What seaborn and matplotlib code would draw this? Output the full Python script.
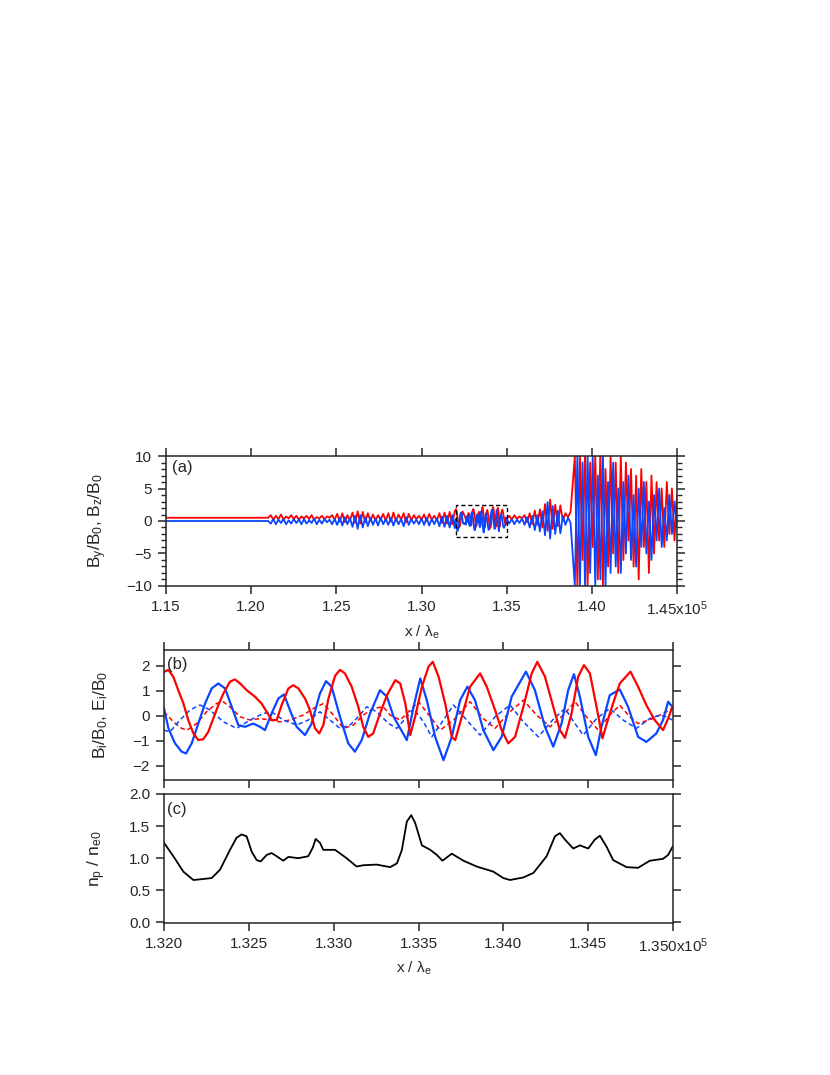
"""Three stacked panels: wide field view, zoomed field components and density."""

import matplotlib.pyplot as plt
import numpy as np
import pandas as pd
import seaborn as sns
from matplotlib.patches import Rectangle

# ---------------- panel (b): zoomed fields, x in units of lambda_e ----------------
by_x = [132000, 132026, 132055, 132084, 132114, 132143, 132173, 132202, 132232, 132261,
        132291, 132320, 132350, 132389, 132418, 132448, 132487, 132536, 132575, 132605,
        132634, 132664, 132693, 132733, 132762, 132792, 132831, 132860, 132890, 132915,
        132939, 132968, 133008, 133037, 133066, 133106, 133145, 133174, 133204, 133233,
        133273, 133314, 133363, 133392, 133422, 133451, 133480, 133520, 133559, 133584,
        133618, 133657, 133696, 133716, 133755, 133804, 133863, 133902, 133951, 133990,
        134029, 134069, 134118, 134167, 134200, 134245, 134294, 134333, 134363, 134402,
        134441, 134475, 134510, 134549, 134584, 134627, 134686, 134749, 134794, 134843,
        134892, 134941, 134971, 134996]
by_y = [1.75, 1.83, 1.55, 1.02, 0.5, -0.17, -0.7, -0.97, -0.93, -0.64,
        -0.1, 0.42, 0.89, 1.36, 1.45, 1.29, 1.02, 0.76, 0.49, 0.16,
        -0.17, -0.17, 0.42, 1.09, 1.22, 1.09, 0.69, 0.23, -0.5, -0.7,
        -0.37, 0.66, 1.59, 1.83, 1.69, 1.16, 0.36, -0.44, -0.84, -0.7,
        0.09, 0.82, 1.42, 1.29, 0.49, -0.77, -0.04, 1.16, 1.96, 2.15,
        1.56, 0.49, -0.84, -0.97, -0.04, 1.16, 1.69, 1.16, 0.23, -0.57,
        -1.1, -0.84, 0.36, 1.69, 2.15, 1.56, 0.36, -0.57, -0.88, 0.09,
        1.56, 2.02, 1.69, 0.36, -0.9, 0.09, 1.29, 1.76, 1.16, 0.42,
        -0.17, -0.57, -0.11, 0.36]

bz_x = [132000, 132026, 132065, 132104, 132130, 132163, 132202, 132242, 132281, 132320,
        132360, 132399, 132438, 132477, 132526, 132566, 132595, 132634, 132674, 132707,
        132742, 132782, 132831, 132870, 132919, 132955, 132988, 133037, 133086, 133125,
        133165, 133214, 133273, 133314, 133353, 133392, 133431, 133471, 133510, 133549,
        133598, 133647, 133696, 133745, 133788, 133833, 133882, 133941, 133990, 134049,
        134133, 134186, 134245, 134294, 134343, 134382, 134416, 134451, 134500, 134545,
        134578, 134627, 134686, 134735, 134794, 134843, 134902, 134941, 134971, 134996]
bz_y = [0.29, -0.5, -1.1, -1.43, -1.5, -1.1, -0.31, 0.49, 1.09, 1.29,
        1.09, 0.36, -0.37, -0.44, -0.31, -0.44, -0.57, 0.09, 0.69, 0.85,
        0.23, -0.44, -0.77, -0.31, 0.89, 1.38, 1.16, -0.04, -1.1, -1.43,
        -0.97, 0.09, 1.02, 0.76, -0.04, -0.5, -0.97, 0.36, 1.49, 0.62,
        -0.84, -1.77, -0.84, 0.62, 1.16, 0.62, -0.57, -1.37, -0.84, 0.76,
        1.76, 1.02, -0.44, -1.23, -0.31, 1.02, 1.66, 0.76, -0.84, -1.57,
        -0.44, 0.82, 1.05, 0.36, -0.84, -1.04, -0.7, -0.17, 0.56, 0.36]

ey_x = [132000, 132055, 132104, 132137, 132192, 132251, 132310, 132350, 132399, 132448,
        132507, 132566, 132625, 132683, 132742, 132821, 132880, 132939, 132998, 133057,
        133116, 133174, 133233, 133292, 133333, 133392, 133451, 133500, 133569, 133628,
        133706, 133804, 133882, 133951, 134039, 134118, 134196, 134275, 134353, 134422,
        134490, 134559, 134627, 134686, 134745, 134794, 134882, 134961, 134996]
ey_y = [0.16, -0.24, -0.5, -0.57, -0.31, 0.16, 0.49, 0.56, 0.29, -0.04,
        -0.17, -0.11, -0.17, -0.24, -0.17, 0.03, 0.29, 0.49, 0.03, -0.5,
        -0.37, 0.03, 0.29, 0.36, 0.03, -0.17, 0.23, 0.56, -0.04, -0.57,
        -0.17, 0.56, -0.11, -0.5, 0.16, 0.62, 0.03, -0.44, 0.03, 0.56,
        -0.04, -0.57, 0.03, 0.42, -0.04, -0.31, -0.11, 0.16, 0.29]

ez_x = [132000, 132035, 132094, 132153, 132212, 132271, 132350, 132428, 132507, 132585,
        132634, 132703, 132782, 132850, 132919, 132978, 133037, 133096, 133155, 133194,
        133253, 133324, 133373, 133422, 133471, 133529, 133578, 133647, 133706, 133784,
        133863, 133951, 134039, 134118, 134206, 134290, 134363, 134422, 134471, 134549,
        134627, 134706, 134784, 134863, 134922, 134961, 134996]
ez_y = [-0.57, -0.64, -0.17, 0.23, 0.43, 0.23, -0.24, -0.5, -0.17, 0.09,
        0.16, -0.17, -0.37, -0.17, 0.16, -0.17, -0.5, -0.37, 0.03, 0.36,
        0.16, -0.31, -0.5, -0.11, 0.29, -0.24, -0.84, -0.17, 0.43, -0.17,
        -0.77, -0.04, 0.43, -0.24, -0.84, -0.17, 0.29, -0.31, -0.77, -0.11,
        0.29, -0.17, -0.5, -0.11, 0.03, -0.04, -0.17]

# ---------------- panel (c): density ----------------
np_x = [132000, 132055, 132114, 132173, 132212, 132281, 132330, 132389, 132428, 132458,
        132487, 132517, 132546, 132570, 132605, 132634, 132664, 132703, 132733, 132792,
        132850, 132876, 132894, 132919, 132939, 133008, 133076, 133135, 133175, 133253,
        133333, 133373, 133402, 133431, 133457, 133480, 133520, 133569, 133608, 133641,
        133696, 133765, 133843, 133941, 134000, 134039, 134118, 134177, 134255, 134304,
        134333, 134363, 134412, 134451, 134500, 134539, 134569, 134608, 134647, 134726,
        134794, 134863, 134941, 134971, 135000]
np_y = [1.24, 1.03, 0.79, 0.66, 0.67, 0.69, 0.82, 1.13, 1.32, 1.37,
        1.34, 1.10, 0.97, 0.95, 1.05, 1.08, 1.03, 0.96, 1.02, 1.00,
        1.03, 1.16, 1.30, 1.24, 1.13, 1.13, 1.00, 0.87, 0.89, 0.90,
        0.86, 0.92, 1.13, 1.57, 1.67, 1.55, 1.20, 1.13, 1.05, 0.96,
        1.07, 0.96, 0.87, 0.79, 0.69, 0.66, 0.70, 0.77, 1.03, 1.34,
        1.39, 1.29, 1.15, 1.20, 1.15, 1.29, 1.35, 1.18, 0.97, 0.86,
        0.85, 0.96, 0.99, 1.05, 1.19]

# ---------------- panel (a): wide view, values read as successive extrema ----------------
flat_x = [115000, 120900]
flat_by = [0.5, 0.5]
flat_bz = [0.0, 0.0]

# 1.21 - 1.32 (x10^5), sampled every 150 lambda_e
pre_by = [0.5, 0.9, 0.2, 0.8, 0.3, 1.0, 0.2, 0.7, 0.4, 0.9, 0.3, 0.8, 0.2, 0.7, 0.4, 0.8,
          0.3, 0.9, 0.2, 0.6, 0.4, 0.8, 0.3, 0.7, 0.5, 0.9, 0.2,
          1.1, -0.1, 1.2, -0.2, 0.9, 0.1, 1.3, -0.3, 1.5, -0.4, 1.4, -0.2, 1.2, 0.0, 1.0,
          0.1, 0.9, 0.2, 1.1, 0.0,
          1.2, -0.1, 1.3, 0.0, 1.0, 0.2, 1.2, -0.2, 1.1, 0.1, 0.9, 0.3, 0.8, 0.2, 1.0,
          0.0, 1.1, 0.2, 0.8, 0.1, 1.2, -0.3, 1.3, -0.4, 1.4, -0.5, 1.5]
pre_bz = [0.0, -0.4, 0.3, -0.5, 0.2, -0.3, 0.3, -0.5, 0.1, -0.4, 0.3, -0.3, 0.2, -0.5,
          0.3, -0.4, 0.1, -0.3, 0.4, -0.5, 0.2, -0.4, 0.3, -0.2, 0.2, -0.5, 0.3,
          -0.6, 0.5, -0.7, 0.6, -0.5, 0.4, -0.9, 0.8, -1.2, 0.9, -1.0, 0.6, -0.8, 0.5,
          -0.6, 0.4, -0.7, 0.5, -0.5, 0.3,
          -0.6, 0.5, -0.7, 0.4, -0.5, 0.3, -0.8, 0.6, -0.6, 0.3, -0.4, 0.2, -0.5, 0.4,
          -0.6, 0.5, -0.7, 0.3, -0.5, 0.4, -0.8, 0.7, -0.9, 0.8, -1.0, 0.9, -1.1]

# 1.3515 - 1.3875 (x10^5), sampled every 150 lambda_e
post_by = [0.8, 0.2, 0.9, 0.3, 0.7, 0.4, 0.9, -0.2, 1.2, -0.5, 1.6, -0.6, 1.8, -1.0,
           2.6, -1.5, 3.3, -1.2, 2.5, -0.8, 2.4, 0.0, 1.2, 0.6, 1.4]
post_bz = [-0.4, 0.3, -0.5, 0.2, -0.3, 0.4, -0.6, 0.6, -1.0, 0.8, -1.4, 0.9, -1.6, 1.5,
           -2.2, 2.9, -2.7, 2.3, -2.0, 1.6, -1.9, 0.8, -0.6, 0.5, -0.3]

# 1.39 - 1.45 (x10^5), sampled every 150 lambda_e
burst_by = [10, -10, 10, -6, 11, -10, 9, -4, 10, -9, 11, -10, 8, -7, 10, -5, 9, -8, 10,
            -6, 9, -3, 8, -7, 7, -9, 8, -4, 6, -8, 7, -5, 6, -3, 5, -4, 6, -2, 5, -3, 4]
burst_bz = [-10, 10, -10, 9, -10, 10, -8, 10, -10, 7, -9, 10, -10, 6, -8, 9, -7, 5, -8,
            6, -5, 7, -6, 4, -7, 5, -4, 6, -5, 3, -6, 4, -3, 5, -4, 2, -3, 4, -2, 3, -1]

a_ticks = [115000, 120000, 125000, 130000, 135000, 140000, 145000]
a_ticklabels = ["1.15", "1.20", "1.25", "1.30", "1.35", "1.40", "1.45x10$^{5}$"]
c_ticks = [132000, 132500, 133000, 133500, 134000, 134500, 135000]
c_ticklabels = ["1.320", "1.325", "1.330", "1.335", "1.340", "1.345", "1.350x10$^{5}$"]

RED = "#ff0000"
BLUE = "#0a46ff"

pre_x = np.arange(121000, 132000, 150)
post_x = np.arange(135150, 138800, 150)
burst_x = np.arange(139000, 145100, 150)

a_x_by = np.concatenate([flat_x, pre_x, by_x, post_x, burst_x])
a_by = np.concatenate([flat_by, pre_by, by_y, post_by, burst_by])
a_x_bz = np.concatenate([flat_x, pre_x, bz_x, post_x, burst_x])
a_bz = np.concatenate([flat_bz, pre_bz, bz_y, post_bz, burst_bz])

sns.set_style("ticks")
plt.rcParams["font.family"] = ["Liberation Sans", "DejaVu Sans"]
plt.rcParams["mathtext.default"] = "regular"
plt.rcParams["axes.linewidth"] = 1.1

FS = 11
LFS = 12.5

fig = plt.figure(figsize=(8.3, 10.75), dpi=100)
ax_a = fig.add_axes([0.2, 0.4549, 0.6157, 0.1209])
ax_b = fig.add_axes([0.1976, 0.2744, 0.6133, 0.1209])
ax_c = fig.add_axes([0.1976, 0.1414, 0.6133, 0.12])

line_kw = dict(estimator=None, sort=False, legend=False)

# panel (a)
sns.lineplot(x=a_x_by, y=a_by, color=RED, lw=1.3, ax=ax_a, **line_kw)
sns.lineplot(x=a_x_bz, y=a_bz, color=BLUE, lw=1.3, ax=ax_a, **line_kw)
ax_a.add_patch(Rectangle((132000, -2.5), 3000, 5.0, fill=False, ec="black",
                         lw=1.0, ls=(0, (3, 2)), zorder=5))
ax_a.set_xlim(115000, 145000)
ax_a.set_ylim(-10, 10)
ax_a.set_xticks(a_ticks)
ax_a.set_xticklabels(a_ticklabels)
ax_a.set_yticks([-10, -5, 0, 5, 10])
ax_a.set_yticks(np.arange(-10, 11, 1), minor=True)
ax_a.tick_params(axis="x", which="major", direction="out", top=True, length=6, width=1.1,
                 labelsize=FS, pad=4)
ax_a.tick_params(axis="y", which="major", direction="out", right=True, length=6, width=1.1,
                 labelsize=FS, pad=4)
ax_a.tick_params(axis="y", which="minor", direction="out", right=True, length=3.5, width=1.0)
ax_a.set_xlabel("x / λ$_{e}$", fontsize=FS)
ax_a.xaxis.set_label_coords(0.5, -0.29)
ax_a.set_ylabel("B$_{y}$/B$_{0}$, B$_{z}$/B$_{0}$", fontsize=LFS)
ax_a.yaxis.set_label_coords(-0.112, 0.5)
ax_a.text(0.012, 0.91, "(a)", transform=ax_a.transAxes, fontsize=12, va="center")

# panel (b)
sns.lineplot(x=ey_x, y=ey_y, color=RED, lw=1.1, ls=(0, (3, 2)), ax=ax_b, **line_kw)
sns.lineplot(x=ez_x, y=ez_y, color=BLUE, lw=1.1, ls=(0, (3, 2)), ax=ax_b, **line_kw)
sns.lineplot(x=bz_x, y=bz_y, color=BLUE, lw=1.6, ax=ax_b, **line_kw)
sns.lineplot(x=by_x, y=by_y, color=RED, lw=1.6, ax=ax_b, **line_kw)
ax_b.set_xlim(132000, 135000)
ax_b.set_ylim(-2.56, 2.62)
ax_b.set_xticks(c_ticks)
ax_b.set_xticklabels([])
ax_b.set_yticks([-2, -1, 0, 1, 2])
ax_b.tick_params(axis="x", direction="out", top=True, length=6, width=1.1)
ax_b.tick_params(axis="y", direction="out", right=True, length=6, width=1.1,
                 labelsize=FS, pad=4)
ax_b.set_xlabel("")
ax_b.set_ylabel("B$_{i}$/B$_{0}$, E$_{i}$/B$_{0}$", fontsize=LFS)
ax_b.yaxis.set_label_coords(-0.106, 0.5)
ax_b.text(0.006, 0.885, "(b)", transform=ax_b.transAxes, fontsize=12, va="center")

# panel (c)
sns.lineplot(x=np_x, y=np_y, color="black", lw=1.3, ax=ax_c, **line_kw)
ax_c.set_xlim(132000, 135000)
ax_c.set_ylim(-0.01, 2.0)
ax_c.set_xticks(c_ticks)
ax_c.set_xticklabels(c_ticklabels)
ax_c.set_yticks([0.0, 0.5, 1.0, 1.5, 2.0])
ax_c.set_yticklabels(["0.0", "0.5", "1.0", "1.5", "2.0"])
ax_c.tick_params(axis="x", direction="out", length=6, width=1.1, labelsize=FS, pad=4)
ax_c.tick_params(axis="y", direction="out", right=True, length=6, width=1.1,
                 labelsize=FS, pad=4)
ax_c.set_xlabel("x / λ$_{e}$", fontsize=FS)
ax_c.xaxis.set_label_coords(0.49, -0.285)
ax_c.set_ylabel("n$_{p}$ / n$_{e0}$", fontsize=LFS)
ax_c.yaxis.set_label_coords(-0.11, 0.5)
ax_c.text(0.006, 0.876, "(c)", transform=ax_c.transAxes, fontsize=12, va="center")

fig.savefig("out.png", dpi=100)
